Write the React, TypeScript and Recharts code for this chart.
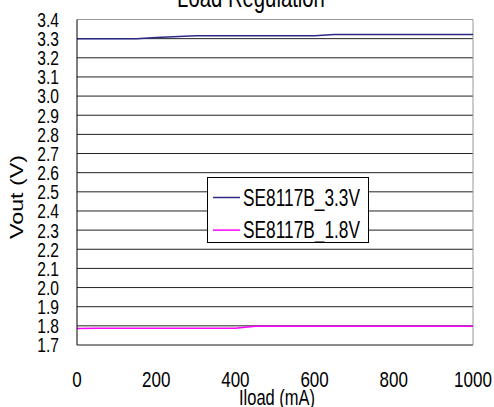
import { LineChart, Line, XAxis, YAxis, CartesianGrid, Legend, ReferenceLine } from 'recharts'

const loads = [0, 50, 100, 150, 200, 300, 400, 450, 500, 600, 650, 700, 800, 900, 1000]
const vout33 = [3.3, 3.3, 3.3, 3.3, 3.306, 3.315, 3.315, 3.315, 3.315, 3.315, 3.322, 3.322, 3.322, 3.322, 3.322]
const vout18 = [1.786, 1.787, 1.787, 1.787, 1.787, 1.787, 1.788, 1.798, 1.798, 1.798, 1.798, 1.798, 1.798, 1.798, 1.798]
const yTicks = [1.7, 1.8, 1.9, 2.0, 2.1, 2.2, 2.3, 2.4, 2.5, 2.6, 2.7, 2.8, 2.9, 3.0, 3.1, 3.2, 3.3, 3.4]
const xTicks = [0, 200, 400, 600, 800, 1000]
const seriesNames = ['SE8117B_3.3V', 'SE8117B_1.8V']

const data = loads.map((load, i) => ({ load, v33: vout33[i], v18: vout18[i] }))

const FONT = '"Liberation Sans", Arial, sans-serif'
const STRETCH = 1.33

const YTick = ({ x, y, payload }: any) => (
  <text
    transform={`translate(${x - 10}, ${y + 7.4}) scale(1, ${STRETCH})`}
    textAnchor="end"
    fontSize={15.6}
    fontFamily={FONT}
    fill="#000"
  >
    {Number(payload.value).toFixed(1)}
  </text>
)

const XTick = ({ x, y, payload }: any) => (
  <text
    transform={`translate(${x}, ${y + 34}) scale(1, ${STRETCH})`}
    textAnchor="middle"
    fontSize={17}
    fontFamily={FONT}
    fill="#000"
  >
    {payload.value}
  </text>
)

const LegendBox = ({ payload }: any) => {
  // keep the series order, recharts sorts legend items by name
  const items = [...(payload || [])].sort((a: any, b: any) => seriesNames.indexOf(a.value) - seriesNames.indexOf(b.value))
  return (
    <div style={{ border: '1px solid #000', background: '#fff', width: 160, height: 64 }}>
      <svg width={160} height={64}>
        {items.map((p: any, i: number) => {
          const cy = 19.5 + i * 32.6
          return (
            <g key={p.value}>
              <line x1={5} x2={32} y1={cy} y2={cy} stroke={p.color} strokeWidth={1.5} />
              <text
                transform={`translate(35, ${cy + 8.2}) scale(1, ${STRETCH})`}
                fontSize={17.3}
                fontFamily={FONT}
                fill="#000"
              >
                {p.value}
              </text>
            </g>
          )
        })}
      </svg>
    </div>
  )
}

export default function App() {
  return (
    <div style={{ position: 'relative', width: 494, height: 407 }}>
      <style>{'body{margin:0}'}</style>
      <LineChart width={494} height={407} data={data} margin={{ top: 19.5, right: 21, left: 0, bottom: 0 }}>
        <CartesianGrid horizontal vertical={false} stroke="#222" strokeWidth={1} />
        <XAxis
          dataKey="load"
          type="number"
          domain={[0, 1000]}
          ticks={xTicks}
          height={62}
          axisLine={{ stroke: '#888' }}
          tickLine={false}
          tick={<XTick />}
        />
        <YAxis
          type="number"
          domain={[1.7, 3.4]}
          ticks={yTicks}
          width={77}
          axisLine={{ stroke: '#000' }}
          tickLine={false}
          tick={<YTick />}
          interval={0}
        />
        <ReferenceLine y={3.4} stroke="#999" />
        <ReferenceLine x={1000} stroke="#999" />
        <Legend
          layout="vertical"
          align="center"
          verticalAlign="middle"
          wrapperStyle={{ left: 207, top: 177, width: 162, height: 66 }}
          content={<LegendBox />}
        />
        <Line type="linear" dataKey="v33" name={seriesNames[0]} stroke="#2b2b85" strokeWidth={1.5} dot={false} isAnimationActive={false} />
        <Line type="linear" dataKey="v18" name={seriesNames[1]} stroke="#ff00ff" strokeWidth={1.5} dot={false} isAnimationActive={false} />
      </LineChart>
      <svg width={494} height={407} style={{ position: 'absolute', left: 0, top: 0, pointerEvents: 'none' }}>
        <text transform={`translate(251, 7) scale(1, ${STRETCH})`} textAnchor="middle" fontSize={20.3} fontFamily={FONT}>
          Load Regulation
        </text>
        <text transform={`translate(277, 405) scale(1, ${STRETCH})`} textAnchor="middle" fontSize={16.5} fontFamily={FONT}>
          Iload (mA)
        </text>
        <text transform={`translate(23, 197) rotate(-90) scale(${STRETCH}, 1)`} textAnchor="middle" fontSize={17.5} fontFamily={FONT}>
          Vout (V)
        </text>
      </svg>
    </div>
  )
}
